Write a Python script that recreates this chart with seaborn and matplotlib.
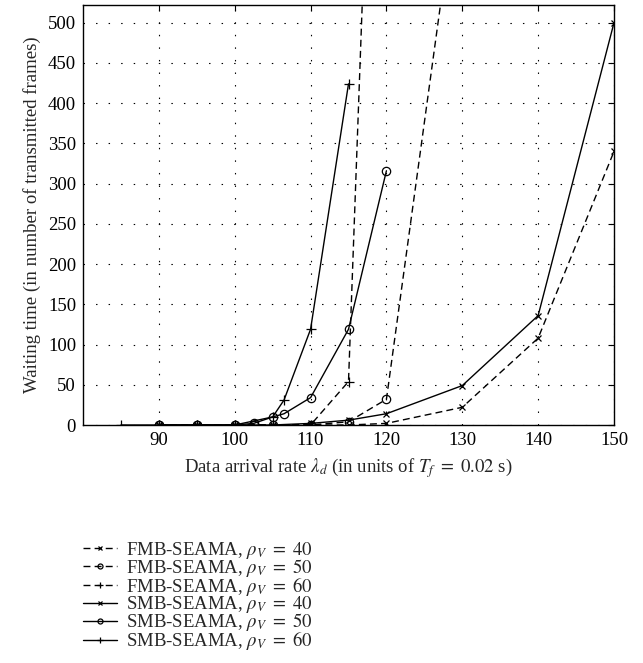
import matplotlib
matplotlib.use("Agg")
import matplotlib.pyplot as plt
import seaborn as sns
import pandas as pd

# ---- data ----
fmb40_x = [90, 95, 100, 105, 110, 115, 120, 130, 140, 150]
fmb40_y = [0, 0, 0, 0, 0, 0, 2, 22, 108, 340]
fmb50_x = [90, 95, 100, 102.5, 105, 110, 115, 120, 130]
fmb50_y = [0, 0, 0, 0, 0, 0, 4, 32, 720]
fmb60_x = [90, 95, 100, 105, 110, 115, 120]
fmb60_y = [0, 0, 0, 0, 0, 54, 1350]
smb40_x = [90, 95, 100, 105, 110, 115, 120, 130, 140, 150]
smb40_y = [0, 0, 0, 0, 2, 6, 14, 49, 136, 500]
smb50_x = [90, 95, 100, 102.5, 105, 106.5, 110, 115, 120]
smb50_y = [0, 0, 0, 2, 10, 14, 34, 119, 316]
smb60_x = [85, 90, 95, 100, 105, 106.5, 110, 115]
smb60_y = [0, 0, 0, 0, 10, 31, 119, 424]

labels = [r"FMB-SEAMA, $\rho_V\ =\ 40$", r"FMB-SEAMA, $\rho_V\ =\ 50$",
          r"FMB-SEAMA, $\rho_V\ =\ 60$", r"SMB-SEAMA, $\rho_V\ =\ 40$",
          r"SMB-SEAMA, $\rho_V\ =\ 50$", r"SMB-SEAMA, $\rho_V\ =\ 60$"]
xs = [fmb40_x, fmb50_x, fmb60_x, smb40_x, smb50_x, smb60_x]
ys = [fmb40_y, fmb50_y, fmb60_y, smb40_y, smb50_y, smb60_y]
styles = [((0, (5, 3)), "x", 4), ((0, (5, 3)), "o", 6), ((0, (5, 3)), "+", 7),
          ("-", "x", 4), ("-", "o", 6), ("-", "+", 7)]

sns.set_style("white")
plt.rcParams["font.family"] = ["Liberation Serif", "DejaVu Serif"]
plt.rcParams["mathtext.fontset"] = "stix"

FS = 13.5
fig = plt.figure(figsize=(6.43, 6.63), dpi=100)
ax = fig.add_axes([83/643, 1-425/663, (614-83)/643, (425-5)/663])

for x, y, lab, (ls, mk, ms) in zip(xs, ys, labels, styles):
    df = pd.DataFrame({"x": x, "y": y})
    sns.lineplot(data=df, x="x", y="y", ax=ax, color="black", linestyle=ls,
                 marker=mk, markersize=ms, markerfacecolor="none",
                 markeredgecolor="black", markeredgewidth=0.9, linewidth=1.0,
                 label=lab, sort=False)

ax.set_xlim(80, 150)
ax.set_ylim(0, 522)
ax.set_xticks(range(90, 151, 10))
ax.set_yticks(range(0, 501, 50))
ax.tick_params(direction="in", top=True, right=True, labelsize=FS,
               length=4, width=0.8, colors="black", pad=5)
ax.grid(True, color="black", linestyle=(0, (1.3, 10)), linewidth=0.8)
for s in ax.spines.values():
    s.set_color("black")
    s.set_linewidth(1.0)
ax.set_xlabel(r"Data arrival rate $\lambda_d$ (in units of $T_f\ =\ 0.02$ s)",
              fontsize=FS, labelpad=5)
ax.set_ylabel("Waiting time (in number of transmitted frames)", fontsize=FS,
              labelpad=5)

handles, labs = ax.get_legend_handles_labels()
ax.legend().remove()
fig.legend(handles, labs, loc="upper left", bbox_to_anchor=(0.118, 0.197),
           frameon=False, fontsize=FS, handlelength=1.8, labelspacing=-0.21,
           handletextpad=0.45, borderaxespad=0, markerscale=0.6)

fig.savefig("out.png", dpi=100)
